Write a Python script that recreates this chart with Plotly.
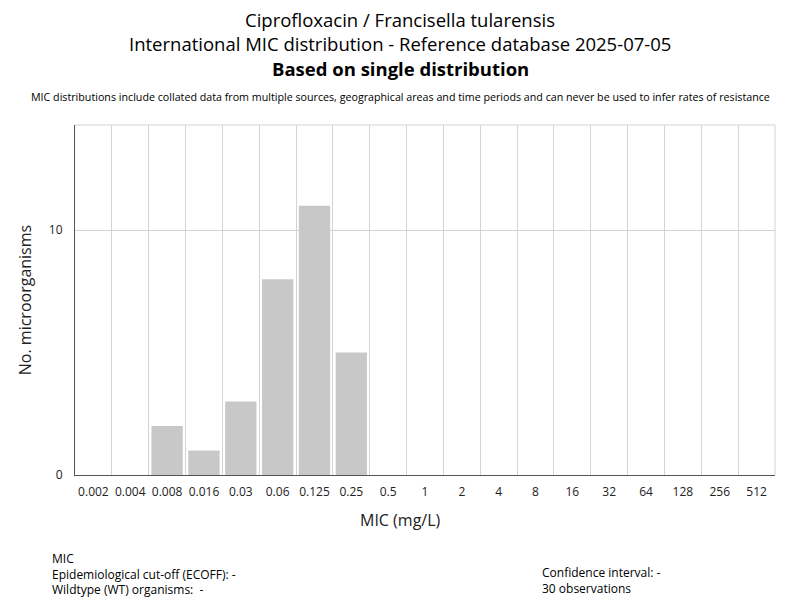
import plotly.graph_objects as go

mic_labels = ["0.002", "0.004", "0.008", "0.016", "0.03", "0.06", "0.125", "0.25", "0.5",
              "1", "2", "4", "8", "16", "32", "64", "128", "256", "512"]
counts = [0, 0, 2, 1, 3, 8, 11, 5, 0, 0, 0, 0, 0, 0, 0, 0, 0, 0, 0]

title_lines = ["Ciprofloxacin / Francisella tularensis",
               "International MIC distribution - Reference database 2025-07-05",
               "<b>Based on single distribution</b>"]
subtitle = "MIC distributions include collated data from multiple sources, geographical areas and time periods and can never be used to infer rates of resistance"
footer_left = ["MIC", "Epidemiological cut-off (ECOFF): -", "Wildtype (WT) organisms:  -"]
footer_right = ["Confidence interval: -", "30 observations"]

FONT = "Open Sans"
OFF = 8  # body margin of the html page

L, T, PW, PH = 75 - OFF, 125 - OFF, 700, 350

fig = go.Figure(go.Bar(x=mic_labels, y=counts, marker_color="#c8c8c8",
                       marker_line_width=0, hoverinfo="x+y"))

fig.update_layout(
    width=800 - OFF, height=600 - OFF,
    margin=dict(l=L, r=25, t=T, b=600 - OFF - T - PH, autoexpand=False),
    plot_bgcolor="white", paper_bgcolor="white",
    font=dict(family=FONT, color="#222"),
    bargap=0.15,
    showlegend=False,
    xaxis=dict(type="category", tickson="boundaries", showgrid=True, gridcolor="#d3d3d3",
               gridwidth=1, showline=True, linecolor="#555", linewidth=1,
               ticks="", tickangle=0, ticklabelstandoff=6,
               tickfont=dict(size=12, color="#222", family=FONT),
               range=[-0.5, len(mic_labels) - 0.5], automargin=False),
    yaxis=dict(range=[0, 14.3], tickvals=[0, 10], showgrid=True, gridcolor="#d3d3d3",
               showline=True, linecolor="#555", linewidth=1, zeroline=False,
               ticks="", ticklabelstandoff=9,
               tickfont=dict(size=12, color="#222", family=FONT), automargin=False,
               title=dict(text="No. microorganisms", font=dict(size=16, family=FONT), standoff=13)),
    shapes=[
        dict(type="line", xref="paper", yref="paper", x0=0, x1=1, y0=1, y1=1,
             line=dict(color="#d3d3d3", width=1)),
        dict(type="line", xref="paper", yref="paper", x0=1, x1=1, y0=0, y1=1,
             line=dict(color="#d3d3d3", width=1)),
    ],
)

anns = []
for t, y in zip(title_lines, [20, 44, 68.5]):
    anns.append(dict(text=t, x=400, y=y, font=dict(size=18.5, family=FONT, color="#000")))
anns.append(dict(text=subtitle, x=400, y=97, font=dict(size=10.7, family=FONT, color="#000")))
anns.append(dict(text="MIC (mg/L)", x=400, y=520, font=dict(size=16, family=FONT, color="#222")))
anns.append(dict(text="<br>".join(footer_left), x=50, y=573.5, xanchor="left", align="left",
                 font=dict(size=12, family=FONT, color="#000")))
anns.append(dict(text="<br>".join(footer_right), x=540, y=580.5, xanchor="left", align="left",
                 font=dict(size=12, family=FONT, color="#000")))

final = []
for a in anns:
    px, py = a.pop("x") - OFF, a.pop("y") - OFF
    a.update(xref="paper", yref="paper", x=(px - L) / PW, y=(T + PH - py) / PH,
             showarrow=False, yanchor="middle")
    a.setdefault("xanchor", "center")
    final.append(a)
fig.update_layout(annotations=final)

fig.write_html("out.html")
